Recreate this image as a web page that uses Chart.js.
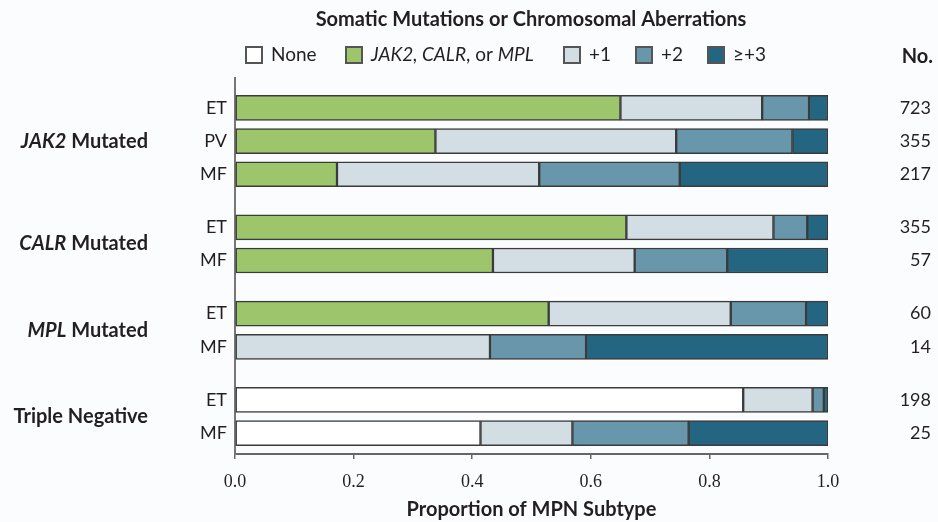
<!DOCTYPE html>
<html>
<head>
<meta charset="utf-8">
<script src="https://cdn.jsdelivr.net/npm/chart.js@4"></script>
<style>
  body { margin: 0; background: #fbfcfe; }
  canvas { display: block; }
</style>
</head>
<body>
<canvas id="myChart" width="938" height="522"></canvas>
<script>
// rows of the chart, top to bottom
const rowLabels = ['ET', 'PV', 'MF', 'ET', 'MF', 'ET', 'MF', 'ET', 'MF'];
const rowPos = [0, 1, 2, 3.6, 4.6, 6.2, 7.2, 8.8, 9.8];
const counts = [723, 355, 217, 355, 57, 60, 14, 198, 25];

// groups (italic part, plain part, first row, last row)
const groupItalic = ['JAK2', 'CALR', 'MPL', ''];
const groupPlain = [' Mutated', ' Mutated', ' Mutated', 'Triple Negative'];
const groupFirst = [0, 3, 5, 7];
const groupLast = [2, 4, 6, 8];

// proportions per series
const noneVals = [0, 0, 0, 0, 0, 0, 0, 0.857, 0.414];
const driverVals = [0.65, 0.338, 0.172, 0.66, 0.435, 0.529, 0, 0, 0];
const plus1Vals = [0.239, 0.406, 0.341, 0.248, 0.239, 0.307, 0.43, 0.117, 0.155];
const plus2Vals = [0.079, 0.196, 0.237, 0.057, 0.156, 0.127, 0.162, 0.019, 0.196];
const plus3Vals = [0.032, 0.06, 0.25, 0.035, 0.17, 0.037, 0.408, 0.007, 0.235];

const seriesNames = ['None', 'JAK2, CALR, or MPL', '+1', '+2', '≥+3'];
const seriesColors = ['#ffffff', '#9dc56c', '#d3dee4', '#6897ab', '#246682'];
const xTicks = [0, 0.2, 0.4, 0.6, 0.8, 1.0];

const FONT = 'Lato, "Open Sans", sans-serif';
const textColor = '#231f20';

function makeData(vals) {
    // skip empty segments so no border is drawn for them
    const out = [];
    vals.forEach((v, i) => {
        if (v > 0) out.push({x: v, y: rowPos[i]});
    });
    return out;
}

const allVals = [noneVals, driverVals, plus1Vals, plus2Vals, plus3Vals];
const datasets = allVals.map((vals, k) => ({
    label: seriesNames[k],
    data: makeData(vals),
    backgroundColor: seriesColors[k],
    borderColor: '#3b3b3b',
    borderWidth: 1.5,
    borderSkipped: false,
    barThickness: 25,
    grouped: false
}));

// draws text made of [text, italic] parts, aligned right or left or center
function drawParts(ctx, parts, x, y, align, size, weight) {
    let total = 0;
    parts.forEach(p => {
        ctx.font = (p[1] ? 'italic ' : '') + weight + ' ' + size + 'px ' + FONT;
        total += ctx.measureText(p[0]).width;
    });
    let cx = x;
    if (align === 'right') cx = x - total;
    if (align === 'center') cx = x - total / 2;
    ctx.textAlign = 'left';
    parts.forEach(p => {
        ctx.font = (p[1] ? 'italic ' : '') + weight + ' ' + size + 'px ' + FONT;
        ctx.fillText(p[0], cx, y);
        cx += ctx.measureText(p[0]).width;
    });
}

const extras = {
    id: 'extras',
    beforeDraw(chart) {
        const ctx = chart.ctx;
        ctx.save();
        ctx.fillStyle = '#fbfcfe';
        ctx.fillRect(0, 0, chart.width, chart.height);
        ctx.restore();
    },
    afterDraw(chart) {
        const ctx = chart.ctx;
        const yScale = chart.scales.y;
        const area = chart.chartArea;
        ctx.save();
        ctx.fillStyle = textColor;
        ctx.textBaseline = 'middle';

        // title
        ctx.font = 'bold 20px ' + FONT;
        ctx.textAlign = 'center';
        ctx.fillText('Somatic Mutations or Chromosomal Aberrations', 531, 20);

        // legend
        const boxX = [246, 346, 564, 636, 708];
        const legendParts = [
            [['None', false]],
            [['JAK2', true], [', ', true], ['CALR', true], [', or ', false], ['MPL', true]],
            [['+1', false]],
            [['+2', false]],
            [['≥+3', false]]
        ];
        boxX.forEach((bx, k) => {
            ctx.fillStyle = seriesColors[k];
            ctx.fillRect(bx, 47, 16, 16);
            ctx.strokeStyle = '#555555';
            ctx.lineWidth = 2;
            ctx.strokeRect(bx, 47, 16, 16);
            ctx.fillStyle = textColor;
            drawParts(ctx, legendParts[k], bx + 25, 55, 'left', 19, 'normal');
        });

        // group labels
        groupItalic.forEach((it, g) => {
            const yMid = (yScale.getPixelForValue(rowPos[groupFirst[g]]) +
                yScale.getPixelForValue(rowPos[groupLast[g]])) / 2;
            const parts = [];
            if (it) parts.push([it, true]);
            parts.push([groupPlain[g], false]);
            drawParts(ctx, parts, 148, yMid, 'right', 20, 'bold');
        });

        // counts column
        ctx.font = 'bold 20px ' + FONT;
        ctx.textAlign = 'right';
        ctx.fillText('No.', 933, 57);
        ctx.font = '18px ' + FONT;
        counts.forEach((n, i) => {
            ctx.fillText(String(n), 931, yScale.getPixelForValue(rowPos[i]));
        });

        // x axis title
        ctx.font = 'bold 20px ' + FONT;
        ctx.textAlign = 'center';
        ctx.fillText('Proportion of MPN Subtype', (area.left + area.right) / 2, 510);
        ctx.restore();
    }
};

const myChart = new Chart(document.getElementById('myChart').getContext('2d'), {
    type: 'bar',
    data: {datasets: datasets},
    options: {
        indexAxis: 'y',
        responsive: false,
        animation: false,
        layout: {
            padding: {left: 180, right: 110, top: 78, bottom: 0}
        },
        scales: {
            x: {
                type: 'linear',
                stacked: true,
                min: 0,
                max: 1,
                afterBuildTicks: (scale) => {
                    scale.ticks = xTicks.map(v => ({value: v}));
                },
                afterFit: (scale) => {
                    scale.height = 68;
                },
                ticks: {
                    color: textColor,
                    padding: 12,
                    font: {family: '"Liberation Serif", serif', size: 18},
                    callback: (v) => Number(v).toFixed(1)
                },
                grid: {
                    display: true,
                    drawOnChartArea: false,
                    drawTicks: true,
                    tickLength: 5,
                    color: '#666666',
                    lineWidth: 1.5
                },
                border: {display: true, color: '#666666', width: 2}
            },
            y: {
                type: 'linear',
                stacked: true,
                reverse: true,
                offset: false,
                min: -0.9,
                max: 10.43,
                afterBuildTicks: (scale) => {
                    scale.ticks = rowPos.map(v => ({value: v}));
                },
                afterFit: (scale) => {
                    scale.width = 55;
                },
                ticks: {
                    color: textColor,
                    padding: 8,
                    font: {family: FONT, size: 18},
                    callback: (v, i) => rowLabels[i]
                },
                grid: {display: false, drawTicks: false},
                border: {display: true, color: '#777777', width: 2}
            }
        },
        plugins: {
            legend: {display: false},
            tooltip: {enabled: false}
        }
    },
    plugins: [extras]
});
</script>
</body>
</html>
